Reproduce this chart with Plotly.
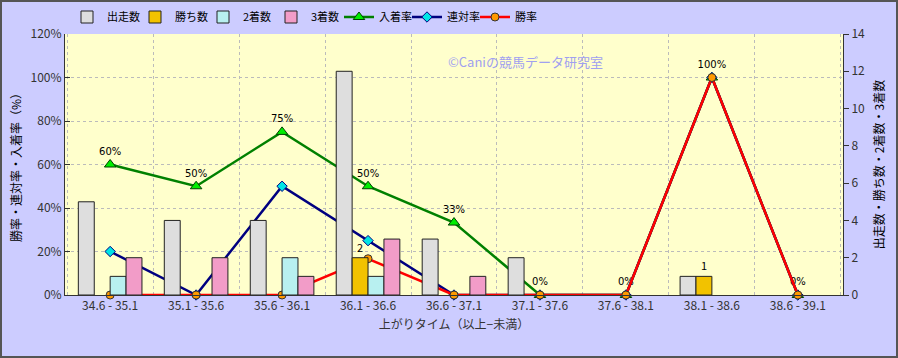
import plotly.graph_objects as go

categories = ["34.6 - 35.1", "35.1 - 35.6", "35.6 - 36.1", "36.1 - 36.6", "36.6 - 37.1",
              "37.1 - 37.6", "37.6 - 38.1", "38.1 - 38.6", "38.6 - 39.1"]
runs = [5, 4, 4, 12, 3, 2, 0, 1, 0]
wins = [0, 0, 0, 2, 0, 0, 0, 1, 0]
seconds = [1, 0, 2, 1, 0, 0, 0, 0, 0]
thirds = [2, 2, 1, 3, 1, 0, 0, 0, 0]
place_rate = [0.60, 0.50, 0.75, 0.50, 0.333, 0.0, 0.0, 1.0, 0.0]
rentai_rate = [0.20, 0.0, 0.50, 0.25, 0.0, 0.0, 0.0, 1.0, 0.0]
win_rate = [0.0, 0.0, 0.0, 0.1667, 0.0, 0.0, 0.0, 1.0, 0.0]
place_labels = ["60%", "50%", "75%", "50%", "33%", "0%", "0%", "100%", "0%"]
win_labels = [str(v) if v else "" for v in wins]


def nz(vals):
    return [v if v else None for v in vals]


FONT = "Noto Sans CJK JP"
W, H = 898, 358
L, R, T, B = 65, 55, 34, 63
pw, ph = W - L - R, H - T - B

fig = go.Figure()
line_edge = dict(color="#222222", width=1)
fig.add_trace(go.Bar(name="出走数", x=categories, y=nz(runs), yaxis="y2",
                     marker=dict(color="#dedede", line=line_edge)))
fig.add_trace(go.Bar(name="勝ち数", x=categories, y=nz(wins), yaxis="y2",
                     marker=dict(color="#f2c200", line=line_edge),
                     text=win_labels, textposition="outside",
                     textfont=dict(size=11, color="#000000"), cliponaxis=False))
fig.add_trace(go.Bar(name="2着数", x=categories, y=nz(seconds), yaxis="y2",
                     marker=dict(color="#b8f0f0", line=line_edge)))
fig.add_trace(go.Bar(name="3着数", x=categories, y=nz(thirds), yaxis="y2",
                     marker=dict(color="#f29cc8", line=line_edge)))
fig.add_trace(go.Scatter(name="入着率", x=categories, y=place_rate, mode="lines+markers+text",
                         line=dict(color="#008000", width=2.5),
                         marker=dict(symbol="triangle-up", size=10, color="#00ee00",
                                     line=dict(color="#004000", width=1)),
                         text=place_labels, textposition="top center",
                         textfont=dict(size=10, color="#000000", family="DejaVu Sans"),
                         cliponaxis=False))
fig.add_trace(go.Scatter(name="連対率", x=categories, y=rentai_rate, mode="lines+markers",
                         line=dict(color="#000080", width=2.5),
                         marker=dict(symbol="diamond", size=8, color="#00e5e5",
                                     line=dict(color="#000080", width=1)),
                         cliponaxis=False))
fig.add_trace(go.Scatter(name="勝率", x=categories, y=win_rate, mode="lines+markers",
                         line=dict(color="#ff0000", width=2.5),
                         marker=dict(symbol="circle", size=8, color="#ff9900",
                                     line=dict(color="#333333", width=1)),
                         cliponaxis=False))

fig.add_annotation(text="©Caniの競馬データ研究室", xref="paper", yref="paper",
                   x=(525 - L) / pw, y=1 - (50 - T) / ph, showarrow=False,
                   font=dict(size=13, color="#a0a0f0", family=FONT))

# outer frame
fig.add_shape(type="rect", xref="paper", yref="paper",
              x0=-(L - 1) / pw, x1=1 + (R - 1) / pw, y0=-(B - 1) / ph, y1=1 + (T - 1) / ph,
              line=dict(color="#555555", width=2), fillcolor="rgba(0,0,0,0)", layer="below")

fig.update_layout(
    width=W, height=H,
    margin=dict(l=L, r=R, t=T, b=B, autoexpand=False),
    paper_bgcolor="#ccccff",
    plot_bgcolor="#ffffcc",
    font=dict(family=FONT, size=12, color="#333333"),
    barmode="group", bargap=0.26, bargroupgap=0,
    showlegend=True,
    legend=dict(orientation="h", x=(67 - L) / pw, xanchor="left", y=1 + (T - 17) / ph,
                yanchor="middle", font=dict(size=11, color="#000000"),
                bgcolor="rgba(0,0,0,0)", itemwidth=30, tracegroupgap=0,
                entrywidth=23, entrywidthmode="pixels"),
    xaxis=dict(type="category", tickson="boundaries", showgrid=True,
               gridcolor="#bbbbbb", griddash="dot", gridwidth=1,
               showline=True, linecolor="#333333", linewidth=1, ticks="",
               tickfont=dict(size=12, color="#333333"),
               title=dict(text="上がりタイム（以上−未満）", font=dict(size=12, color="#333333"),
                          standoff=8)),
    yaxis=dict(range=[0, 1.2], dtick=0.2, tickformat=".0%", showgrid=True,
               gridcolor="#bbbbbb", griddash="dot", gridwidth=1,
               showline=True, linecolor="#333333", linewidth=1,
               ticks="inside", ticklen=5, tickcolor="#333333",
               tickfont=dict(size=12, color="#333333"), zeroline=False,
               title=dict(text="勝率・連対率・入着率（%）", font=dict(size=12, color="#000000"),
                          standoff=6)),
    yaxis2=dict(range=[0, 14], dtick=2, overlaying="y", side="right", showgrid=False,
                showline=True, linecolor="#333333", linewidth=1,
                ticks="outside", ticklen=5, tickcolor="#333333",
                tickfont=dict(size=12, color="#333333"), zeroline=False,
                title=dict(text="出走数・勝ち数・2着数・3着数", font=dict(size=12, color="#000000"),
                           standoff=11)),
)

fig.write_html("out.html", config={"displayModeBar": False},
               post_script="document.body.style.margin='0';")
